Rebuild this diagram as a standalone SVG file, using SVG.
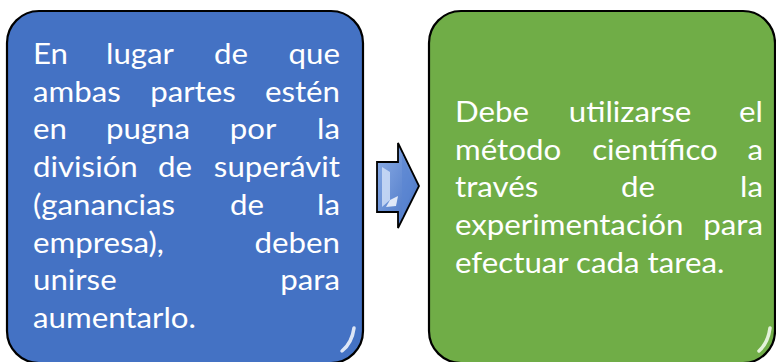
<svg xmlns="http://www.w3.org/2000/svg" width="776" height="362" viewBox="0 0 776 362">
  <defs>
    <style>
      .txt { font-family: Lato, "Open Sans", "Liberation Sans", sans-serif; font-size: 29.5px; fill: #ffffff; }
      .e { text-anchor: end; }
      .m { text-anchor: middle; }
      .box { stroke: #000000; stroke-width: 2.2; }
      .hl { fill: none; stroke-width: 3; stroke-linecap: round; }
    </style>
    <linearGradient id="hlB" x1="0" y1="0" x2="0" y2="1">
      <stop offset="0" stop-color="#dbe6f7" stop-opacity="0"/>
      <stop offset="0.1" stop-color="#dbe6f7" stop-opacity="0.9"/>
      <stop offset="0.9" stop-color="#dbe6f7" stop-opacity="0.9"/>
      <stop offset="1" stop-color="#dbe6f7" stop-opacity="0"/>
    </linearGradient>
    <linearGradient id="hlG" x1="0" y1="0" x2="0" y2="1">
      <stop offset="0" stop-color="#e6f5d8" stop-opacity="0"/>
      <stop offset="0.1" stop-color="#e6f5d8" stop-opacity="0.9"/>
      <stop offset="0.9" stop-color="#e6f5d8" stop-opacity="0.9"/>
      <stop offset="1" stop-color="#e6f5d8" stop-opacity="0"/>
    </linearGradient>
    <linearGradient id="arrowFill" x1="0" y1="0" x2="1" y2="1">
      <stop offset="0" stop-color="#8fb0e8"/>
      <stop offset="1" stop-color="#3e6cc0"/>
    </linearGradient>
  </defs>

  <g id="node-blue">
    <rect class="box" x="7" y="11" width="356" height="352" rx="32" ry="32" fill="#4472c4"/>
    <line class="hl" x1="25" y1="36" x2="25" y2="335" stroke="url(#hlB)"/>
    <line class="hl" x1="360" y1="40" x2="360" y2="320" stroke="url(#hlB)"/>
    <path d="M354 328 Q352 343 342 351" fill="none" stroke="#eef3fc" stroke-width="3.5" stroke-linecap="round" opacity="0.9"/>
    <g class="txt" transform="scale(1.06 1)">
      <text x="31.13" y="64">En</text><text class="m" x="132.08" y="64">lugar</text><text class="m" x="217.92" y="64">de</text><text class="e" x="320.75" y="64">que</text>
      <text x="31.13" y="102">ambas</text><text class="m" x="182.08" y="102">partes</text><text class="e" x="320.75" y="102">estén</text>
      <text x="31.13" y="139.5">en</text><text class="m" x="139.62" y="139.5">pugna</text><text class="m" x="238.68" y="139.5">por</text><text class="e" x="320.75" y="139.5">la</text>
      <text x="31.13" y="177">división</text><text class="m" x="165.09" y="177">de</text><text class="e" x="320.75" y="177">superávit</text>
      <text x="31.13" y="215">(ganancias</text><text class="m" x="233.02" y="215">de</text><text class="e" x="320.75" y="215">la</text>
      <text x="31.13" y="253">empresa),</text><text class="e" x="320.75" y="253">deben</text>
      <text x="31.13" y="290">unirse</text><text class="e" x="320.75" y="290">para</text>
      <text x="31.13" y="328">aumentarlo.</text>
    </g>
  </g>

  <g id="node-green">
    <rect class="box" x="429" y="11" width="346" height="352" rx="32" ry="32" fill="#70ad47"/>
    <line class="hl" x1="444" y1="36" x2="444" y2="335" stroke="url(#hlG)"/>
    <line class="hl" x1="772" y1="40" x2="772" y2="320" stroke="url(#hlG)"/>
    <path d="M770 328 Q768 343 759 351" fill="none" stroke="#f1faea" stroke-width="3.5" stroke-linecap="round" opacity="0.9"/>
    <g class="txt" transform="scale(1.06 1)">
      <text x="429.25" y="122">Debe</text><text class="m" x="594.34" y="122">utilizarse</text><text class="e" x="719.81" y="122">el</text>
      <text x="429.25" y="160">método</text><text class="m" x="617.92" y="160">científico</text><text class="e" x="719.81" y="160">a</text>
      <text x="429.25" y="197.5">través</text><text class="m" x="601.89" y="197.5">de</text><text class="e" x="719.81" y="197.5">la</text>
      <text x="429.25" y="235">experimentación</text><text class="e" x="719.81" y="235">para</text>
      <text x="429.25" y="273">efectuar cada tarea.</text>
    </g>
  </g>

  <g id="connectors">
    <g id="arrow">
      <path d="M377 162 L398 162 L398 143 L419 186 L398 228 L398 212 L377 212 Z" fill="url(#arrowFill)" stroke="#000000" stroke-width="1.8" stroke-linejoin="miter"/>
      <path d="M382 167 L390 172 L390 200 L382 207 Z" fill="#c9d9f5" opacity="0.9"/>
      <path d="M390 200 L398 196 L396 206 L386 207 Z" fill="#eef3fc" opacity="0.9"/>
      <path d="M402 153 L414 186 L402 218 Z" fill="#5a86d2" opacity="0.6"/>
    </g>
  </g>
</svg>
